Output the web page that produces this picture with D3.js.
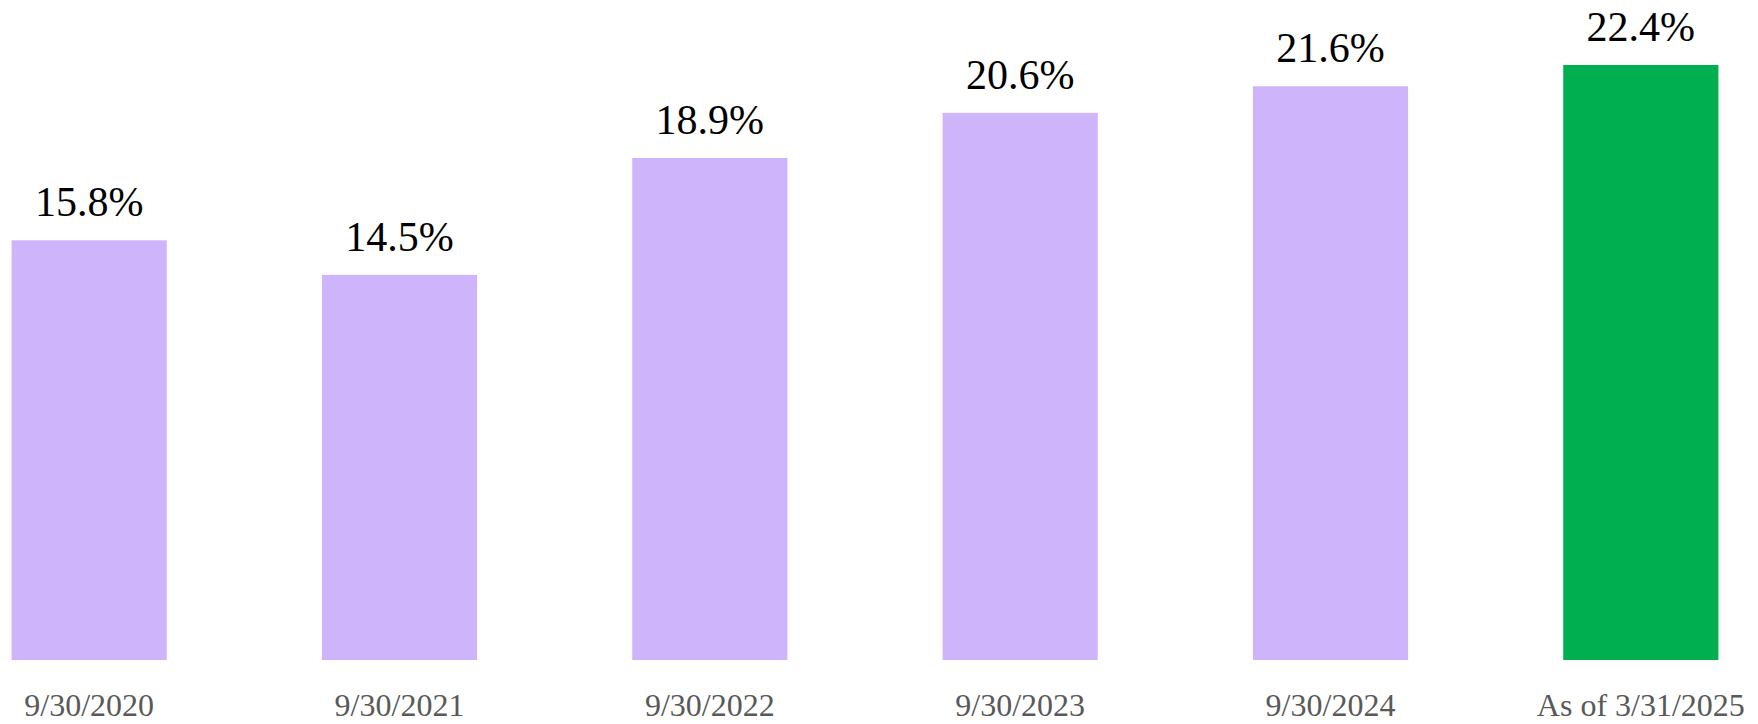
<!DOCTYPE html>
<html>
<head>
<meta charset="utf-8">
<script src="https://cdn.jsdelivr.net/npm/d3@7"></script>
<style>
  html, body { margin: 0; padding: 0; background: #ffffff; }
  svg { display: block; }
</style>
</head>
<body>
<svg id="chart" width="1758" height="724"></svg>
<script>
// Ratio by reporting date
const categories = ["9/30/2020", "9/30/2021", "9/30/2022", "9/30/2023", "9/30/2024", "As of 3/31/2025"];
const values = [15.8, 14.5, 18.9, 20.6, 21.6, 22.4];
const valueLabels = ["15.8%", "14.5%", "18.9%", "20.6%", "21.6%", "22.4%"];
const barColors = ["#cdb4fb", "#cdb4fb", "#cdb4fb", "#cdb4fb", "#cdb4fb", "#00b050"];

const svg = d3.select("#chart");
const baseline = 660;

const x = d3.scaleBand()
  .domain(categories)
  .range([-66, 1796])
  .paddingInner(0.5)
  .paddingOuter(0.25);

const y = d3.scaleLinear()
  .domain([0, 22.4])
  .range([baseline, 65]);

const serif = "'Liberation Serif', 'DejaVu Serif', serif";

// Bars
svg.append("g")
  .selectAll("rect")
  .data(values)
  .join("rect")
  .attr("x", (d, i) => x(categories[i]))
  .attr("y", d => y(d))
  .attr("width", x.bandwidth())
  .attr("height", d => baseline - y(d))
  .attr("fill", (d, i) => barColors[i]);

// Value labels above bars
svg.append("g")
  .selectAll("text")
  .data(values)
  .join("text")
  .attr("x", (d, i) => x(categories[i]) + x.bandwidth() / 2)
  .attr("y", d => y(d) - 24)
  .attr("text-anchor", "middle")
  .attr("font-family", serif)
  .attr("font-size", 42)
  .attr("fill", "#000000")
  .text((d, i) => valueLabels[i]);

// Category axis (labels only)
const axis = svg.append("g")
  .attr("transform", `translate(0,${baseline})`)
  .call(d3.axisBottom(x).tickSize(0).tickPadding(0));
axis.select(".domain").remove();
axis.selectAll("text")
  .attr("y", 56)
  .attr("dy", null)
  .attr("font-family", serif)
  .attr("font-size", 32)
  .attr("fill", "#595959");
</script>
</body>
</html>
